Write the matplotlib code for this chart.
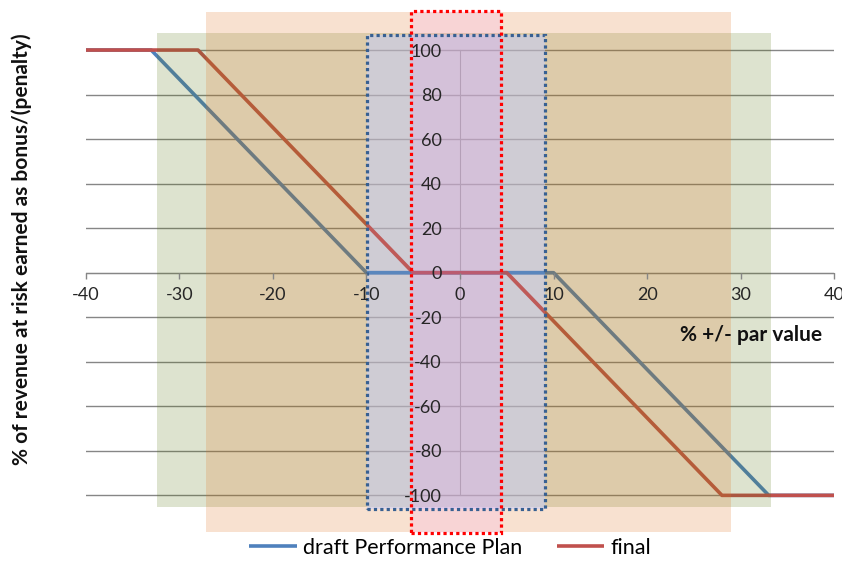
import matplotlib
matplotlib.use("Agg")
import matplotlib.pyplot as plt
from matplotlib.patches import Rectangle

plt.rcParams['font.family'] = ['Lato', 'DejaVu Sans']

# payout curves: % deviation from par vs % of revenue at risk
draft_x = [-40, -33, -10, 10, 33, 40]
draft_y = [100, 100, 0, 0, -100, -100]
final_x = [-40, -28, -5, 5, 28, 40]
final_y = [100, 100, 0, 0, -100, -100]

x_ticks = [-40, -30, -20, -10, 0, 10, 20, 30, 40]
y_ticks = [-100, -80, -60, -40, -20, 0, 20, 40, 60, 80, 100]

# highlighted bands: (x0, x1, y0, y1)
green_band = (-32.4, 33.2, -105.3, 107.5)
orange_band = (-27.1, 29.0, -116.5, 117.0)
blue_band = (-9.9, 9.1, -106.3, 106.7)
red_band = (-5.2, 4.4, -117.0, 117.7)

BLUE = '#4F81BD'
RED = '#C0504D'

fig = plt.figure(figsize=(8.42, 5.67), dpi=100)
ax = fig.add_axes([0.1018, 0.0478, 0.889, 0.9425])

ax.set_xlim(-40, 40)
ax.set_ylim(-120, 120)

grid_col = '#868686'
for y in y_ticks:
    ax.axhline(y, color=grid_col, lw=1.0, zorder=1)

ax.plot(draft_x, draft_y, color=BLUE, lw=2.6, solid_capstyle='butt',
        zorder=2, label='draft Performance Plan')
ax.plot(final_x, final_y, color=RED, lw=2.6, solid_capstyle='butt',
        zorder=2, label='final')


def band(b, face, edge=None, ls=None, lw=0, z=3):
    x0, x1, y0, y1 = b
    r = Rectangle((x0, y0), x1 - x0, y1 - y0, facecolor=face,
                  edgecolor=edge if edge else 'none',
                  linestyle=ls if ls else 'solid', lw=lw,
                  zorder=z, clip_on=False)
    ax.add_patch(r)
    return r


band(green_band, (85/255, 115/255, 15/255, 0.2))
band(orange_band, (225/255, 115/255, 35/255, 0.21))
band(blue_band, (195/255, 205/255, 255/255, 0.5), z=3.2)

# inside the blue box the curves sit above the shading
clip_box = Rectangle((blue_band[0], blue_band[2]),
                     blue_band[1] - blue_band[0], blue_band[3] - blue_band[2],
                     transform=ax.transData, visible=False)
ax.add_patch(clip_box)
for xs, ys, c in [(draft_x, draft_y, BLUE), (final_x, final_y, RED)]:
    ln, = ax.plot(xs, ys, color=c, lw=2.6, solid_capstyle='butt',
                  alpha=0.85, zorder=3.4)
    ln.set_clip_path(clip_box)

band(red_band, (255/255, 120/255, 255/255, 0.12), z=3.6)
band(blue_band, 'none', '#376092', (0, (1, 1)), 2.3, z=3.8)
band(red_band, 'none', '#FF0000', (0, (1, 1)), 2.3, z=3.9)

# axes crossing at the origin
for s in ['top', 'right']:
    ax.spines[s].set_visible(False)
ax.spines['left'].set_position(('data', 0))
ax.spines['bottom'].set_position(('data', 0))
ax.spines['left'].set_bounds(-100, 100)
ax.spines['left'].set_color(grid_col)
ax.spines['bottom'].set_color(grid_col)
ax.spines['left'].set_zorder(1)
ax.spines['bottom'].set_zorder(1)
ax.xaxis.set_zorder(4)
ax.yaxis.set_zorder(4)

ax.set_xticks(x_ticks)
ax.set_xticklabels([str(v) for v in x_ticks])
ax.set_yticks(y_ticks)
ax.set_yticklabels([str(v) for v in y_ticks])
ax.tick_params(axis='x', direction='out', length=4.5, width=1, color=grid_col,
               pad=6, labelsize=13, labelcolor='#262626')
ax.tick_params(axis='y', length=0, pad=13, labelsize=13, labelcolor='#262626')

ax.text(31.1, -28, '% +/- par value', ha='center', va='center',
        fontsize=15, fontweight='bold', color='#111111', zorder=5)
fig.text(0.026, 0.56, '% of revenue at risk earned as bonus/(penalty)',
         rotation=90, ha='center', va='center', fontsize=15,
         fontweight='bold', color='#111111')

fig.legend(loc='lower center', bbox_to_anchor=(0.535, -0.018), ncol=2,
           frameon=False, fontsize=15.5, handlelength=2.2, handletextpad=0.3,
           columnspacing=1.6)

fig.savefig('out.png', dpi=100)
